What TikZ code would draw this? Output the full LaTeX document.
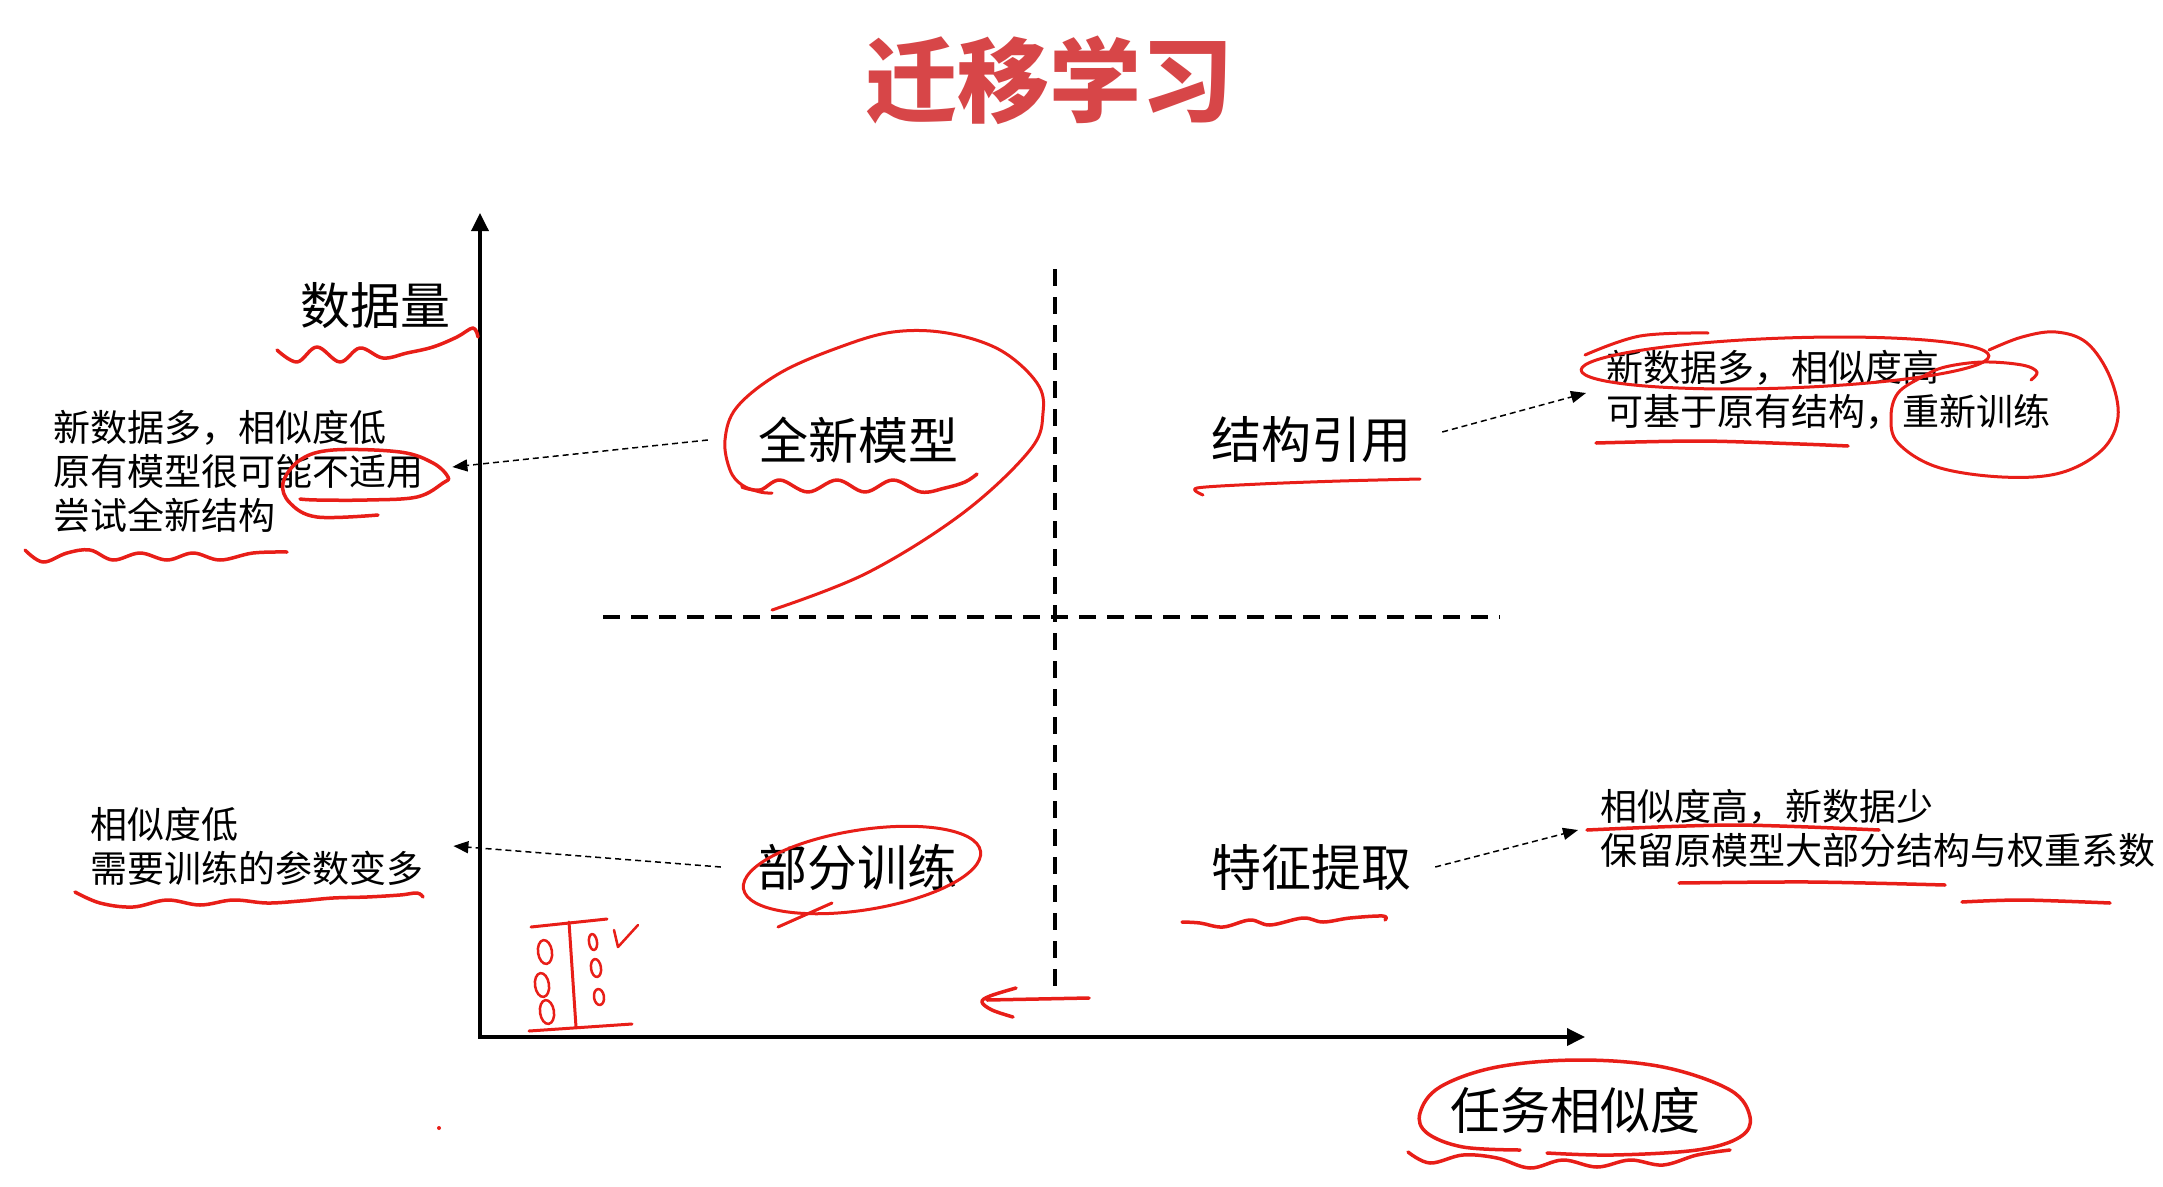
\documentclass[tikz,border=0pt]{standalone}
\usepackage{fontspec}
\newfontfamily\cjk{Noto Sans CJK SC}
\usetikzlibrary{arrows.meta}
\definecolor{titlered}{RGB}{215,70,72}
\definecolor{ink}{RGB}{232,30,24}
\begin{document}
\begin{tikzpicture}[x=1pt,y=-1pt,
  quad/.style={font=\cjk\fontsize{50}{60}\selectfont, inner sep=0pt},
  txt/.style={font=\cjk\fontsize{37}{44}\selectfont, inner sep=0pt, align=left, anchor=west},
  axis/.style={line width=3.5pt, {Triangle[length=18pt,width=17pt]}-{Triangle[length=18pt,width=17pt]}},
  divider/.style={line width=3.5pt, dash pattern=on 17pt off 11pt},
  dotarrow/.style={line width=1.5pt, dash pattern=on 6pt off 4pt, -{Triangle[length=15pt,width=12pt]}},
  redink/.style={draw=ink, line width=3.5pt, line cap=round, line join=round}]
\fill[white] (0,0) rectangle (2163,1186);
\useasboundingbox (0,0) rectangle (2163,1186);

% title
\node[font=\cjk\bfseries\fontsize{92}{100}\selectfont, text=titlered, inner sep=0pt] (title) at (1049,80) {迁移学习};

% axes
\coordinate (O) at (480,1037);
\coordinate (ytip) at (480,213);
\coordinate (xtip) at (1585,1037);
\draw[axis] (ytip) -- (O) -- (xtip);

% quadrant dividers
\coordinate (vtop) at (1055,269);
\coordinate (vbot) at (1055,1000);
\coordinate (hleft) at (603,617);
\coordinate (hright) at (1500,617);
\draw[divider] (vtop) -- (vbot);
\draw[divider] (hleft) -- (hright);

% axis labels
\node[quad] (ylab) at (375,306) {数据量};
\node[quad] (xlab) at (1575,1110) {任务相似度};

% quadrant labels
\node[quad] (qTL) at (858,440) {全新模型};
\node[quad] (qTR) at (1311,440) {结构引用};
\node[quad] (qBL) at (857,867) {部分训练};
\node[quad] (qBR) at (1311,867) {特征提取};

% explanation texts
\node[txt] (b1) at (53,471) {新数据多，相似度低\\原有模型很可能不适用\\尝试全新结构};
\node[txt] (b2) at (1606,390) {新数据多，相似度高\\可基于原有结构，重新训练};
\node[txt] (b3) at (90,846) {相似度低\\需要训练的参数变多};
\node[txt] (b4) at (1600,828) {相似度高，新数据少\\保留原模型大部分结构与权重系数};

% dotted connectors
\draw[dotarrow] ([xshift=-50pt]qTL.west) -- ([xshift=29pt,yshift=4pt]b1.east);
\draw[dotarrow] ([xshift=31pt,yshift=8pt]qTR.east) -- ([xshift=-20pt,yshift=-3pt]b2.west);
\draw[dotarrow] ([xshift=-36pt]qBL.west) -- ([xshift=30pt]b3.east);
\draw[dotarrow] ([xshift=24pt]qBR.east) -- ([xshift=-22pt,yshift=-2pt]b4.west);

% ---------- red hand annotations ----------
% under 数据量
\draw[redink] plot[smooth, tension=0.6] coordinates {(277,350) (297,362) (317,347) (340,362) (360,348) (383,358) (407,353) (433,347) (457,337) (473,328) (478,337)};
% loop round 全新模型
\draw[redink, line width=3pt] plot[smooth, tension=0.6] coordinates {(772,610) (867,573) (963,513) (1030,450) (1043,413) (1037,383) (1000,350) (947,333) (893,332) (840,347) (780,373) (737,407) (725,440) (730,470) (742,485) (760,492) (772,493)};
\draw[redink] plot[smooth, tension=0.6] coordinates {(742,487) (760,490) (780,480) (808,492) (837,480) (865,492) (893,480) (921,492) (945,488) (965,482) (977,474)};
% under 尝试全新结构
\draw[redink] plot[smooth, tension=0.6] coordinates {(25,550) (43,562) (67,553) (90,550) (113,560) (140,553) (167,560) (193,553) (220,560) (253,553) (287,552)};
% loop round 不适用
\draw[redink] plot[smooth, tension=0.6] coordinates {(378,515) (317,517) (290,503) (283,483) (300,460) (333,450) (400,452) (433,463) (448,477) (443,483) (417,497) (367,500) (317,500) (300,499)};
% under 结构引用
\draw[redink, line width=3pt] plot[smooth, tension=0.5] coordinates {(1203,495) (1197,488) (1260,484) (1340,481) (1420,479)};
% right top block
\draw[redink, line width=3pt, rotate around={2:(1785,363)}] (1785,363) ellipse [x radius=204, y radius=25];
\draw[redink, line width=3pt] plot[smooth, tension=0.6] coordinates {(1585,355) (1640,336) (1708,333)};
\draw[redink, line width=3pt] plot[smooth, tension=0.6] coordinates {(1989,350) (2022,337) (2056,332) (2087,343) (2110,377) (2118,417) (2102,450) (2060,473) (2002,477) (1937,467) (1898,443) (1891,417) (1898,393) (1922,377) (1945,367) (1983,362) (2022,365) (2037,372) (2031,380)};
\draw[redink] plot[smooth, tension=0.5] coordinates {(1596,443) (1700,441) (1800,444) (1848,446)};
% loop round 部分训练
\draw[redink, line width=3pt, rotate around={9:(862,870)}] (862,870) ellipse [x radius=120, y radius=40];
\draw[redink, line width=3pt] (778,927) -- (832,903);
% under 需要训练的参数变多
\draw[redink] plot[smooth, tension=0.6] coordinates {(75,892) (100,903) (133,907) (167,900) (200,905) (233,900) (267,903) (300,901) (333,898) (367,897) (400,895) (417,893) (423,897)};
% under 特征提取
\draw[redink] plot[smooth, tension=0.6] coordinates {(1182,922) (1200,923) (1223,927) (1250,920) (1270,925) (1303,918) (1323,922) (1350,918) (1383,916) (1385,920)};
% right bottom block
\draw[redink] plot[smooth, tension=0.5] coordinates {(1587,830) (1733,825) (1879,830)};
\draw[redink] plot[smooth, tension=0.5] coordinates {(1679,883) (1810,882) (1945,885)};
\draw[redink] plot[smooth, tension=0.5] coordinates {(1962,902) (2022,900) (2110,903)};
% round 任务相似度
\draw[redink] plot[smooth, tension=0.6] coordinates {(1520,1150) (1463,1147) (1427,1133) (1420,1113) (1440,1087) (1497,1067) (1580,1060) (1663,1067) (1730,1090) (1750,1117) (1740,1137) (1697,1150) (1613,1155) (1547,1153)};
\draw[redink] plot[smooth, tension=0.6] coordinates {(1408,1152) (1430,1163) (1463,1155) (1497,1158) (1530,1168) (1563,1160) (1597,1167) (1630,1160) (1663,1165) (1697,1155) (1730,1150)};
% small sketch near origin
\draw[redink, line width=3pt] (531,927) -- (607,919);
\draw[redink, line width=3pt] (569,922) -- (576,1027);
\draw[redink, line width=3pt] (529,1031) -- (632,1024);
\draw[redink, line width=2.5pt, rotate around={8:(545,952)}] (545,952) ellipse [x radius=7, y radius=12];
\draw[redink, line width=2.5pt, rotate around={8:(542,985)}] (542,985) ellipse [x radius=7, y radius=12];
\draw[redink, line width=2.5pt, rotate around={8:(547,1012)}] (547,1012) ellipse [x radius=7, y radius=12];
\draw[redink, line width=2.5pt, rotate around={8:(593,942)}] (593,942) ellipse [x radius=4, y radius=8];
\draw[redink, line width=2.5pt, rotate around={8:(596,968)}] (596,968) ellipse [x radius=5, y radius=9];
\draw[redink, line width=2.5pt, rotate around={8:(599,997)}] (599,997) ellipse [x radius=5, y radius=8];
\draw[redink, line width=2.5pt] (614,930) -- (618,947) -- (638,925);
% small arrow at foot of divider
\draw[redink] (1089,998) -- (987,1000);
\draw[redink] plot[smooth, tension=0.6] coordinates {(1016,988) (990,996) (982,1002) (992,1010) (1013,1017)};
% stray dot
\fill[ink] (439,1128) circle [radius=2];
\end{tikzpicture}
\end{document}
